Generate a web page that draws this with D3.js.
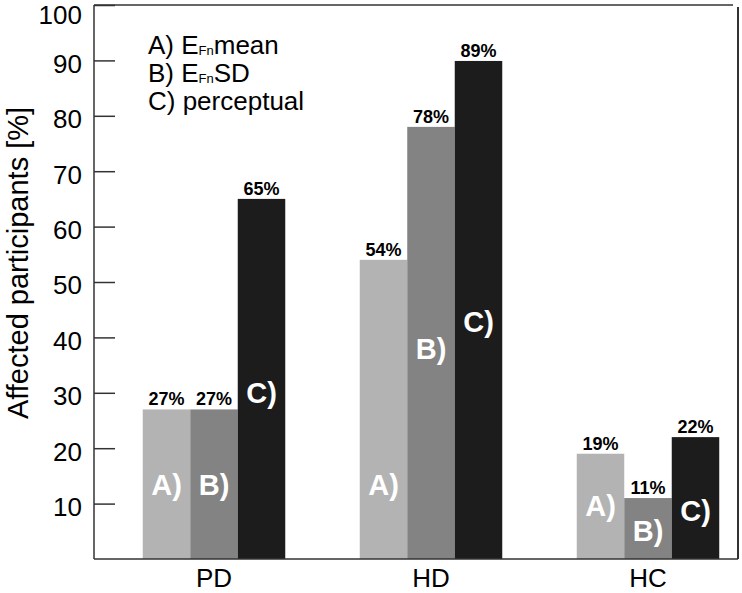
<!DOCTYPE html>
<html>
<head>
<meta charset="utf-8">
<script src="https://cdn.jsdelivr.net/npm/d3@7"></script>
<style>
  html, body { margin: 0; padding: 0; background: #fff; }
  svg { display: block; font-family: "Liberation Sans", Arial, Helvetica, sans-serif; }
</style>
</head>
<body>
<svg id="chart" width="742" height="593"></svg>
<script>
// ---- data ----
const groups = ["PD", "HD", "HC"];
const seriesKeys = ["A)", "B)", "C)"];
const valuesA = [27, 54, 19];
const valuesB = [27, 78, 11];
const valuesC = [65, 89.9, 22];
const pctA = ["27%", "54%", "19%"];
const pctB = ["27%", "78%", "11%"];
const pctC = ["65%", "89%", "22%"];
// where the white series letters sit inside each bar (in % units)
const letterA = [13.5, 13.5, 9.6];
const letterB = [13.5, 38, 5.2];
const letterC = [30, 42.8, 8.8];
const yTicks = [10, 20, 30, 40, 50, 60, 70, 80, 90, 100];
const legendMain = ["A) E", "B) E", "C) perceptual"];
const legendSub = ["Fn", "Fn", ""];
const legendTail = ["mean", "SD", ""];
const yTitle = "Affected participants [%]";
const colors = ["#b3b3b3", "#838383", "#1c1c1c"];

// ---- layout ----
const svg = d3.select("#chart");
const pL = 94, pR = 738, pT = 5, pB = 559;

const y = d3.scaleLinear().domain([0, 100]).range([pB, pT]);
const x = d3.scalePoint().domain(groups).range([pL + 120, pR - 90]);
const groupWidth = 142.5;
const xs = d3.scaleBand().domain(seriesKeys).range([-groupWidth / 2, groupWidth / 2]).padding(0);

const seriesVals = [valuesA, valuesB, valuesC];
const seriesPct = [pctA, pctB, pctC];
const seriesLetter = [letterA, letterB, letterC];

const bars = [];
groups.forEach((g, gi) => {
  seriesKeys.forEach((k, si) => {
    bars.push({ g, k, si, v: seriesVals[si][gi], pct: seriesPct[si][gi], lab: seriesLetter[si][gi] });
  });
});

// bars
svg.append("g").selectAll("rect").data(bars).join("rect")
  .attr("x", d => x(d.g) + xs(d.k))
  .attr("width", xs.bandwidth())
  .attr("y", d => y(d.v))
  .attr("height", d => y(0) - y(d.v))
  .attr("fill", d => colors[d.si]);

// value labels
svg.append("g").selectAll("text").data(bars).join("text")
  .attr("x", d => x(d.g) + xs(d.k) + xs.bandwidth() / 2)
  .attr("y", d => y(d.v) - 4)
  .attr("text-anchor", "middle")
  .attr("font-size", 18)
  .attr("font-weight", "bold")
  .attr("fill", "#000")
  .text(d => d.pct);

// letters inside bars
svg.append("g").selectAll("text").data(bars).join("text")
  .attr("x", d => x(d.g) + xs(d.k) + xs.bandwidth() / 2)
  .attr("y", d => y(d.lab))
  .attr("dy", "0.36em")
  .attr("text-anchor", "middle")
  .attr("font-size", 29)
  .attr("font-weight", "bold")
  .attr("fill", "#fff")
  .text(d => d.k);

// frame
const frame = svg.append("g").attr("fill", "none").attr("stroke", "#333");
frame.append("line").attr("x1", pL).attr("x2", pR - 5).attr("y1", pT).attr("y2", pT).attr("stroke-width", 1.5);
frame.append("line").attr("x1", pR).attr("x2", pR).attr("y1", pT + 2).attr("y2", pB).attr("stroke-width", 2);
frame.append("line").attr("x1", pL).attr("x2", pR).attr("y1", pB).attr("y2", pB).attr("stroke-width", 1.5);

// y axis with inward ticks
const yAxis = d3.axisRight(y).tickValues(yTicks).tickSize(21).tickFormat("");
const ya = svg.append("g").attr("transform", `translate(${pL},0)`).call(yAxis);
ya.select(".domain").attr("stroke", "#333").attr("stroke-width", 1.5).attr("d", `M0,${pT}V${pB}`);
ya.selectAll(".tick line").attr("stroke", "#333").attr("stroke-width", 1.5);

// y tick labels
svg.append("g").selectAll("text").data(yTicks).join("text")
  .attr("x", 82)
  .attr("y", d => Math.max(y(d) + 3, 15))
  .attr("dy", "0.36em")
  .attr("text-anchor", "end")
  .attr("font-size", 26)
  .attr("fill", "#000")
  .text(d => d);

// x category labels
svg.append("g").selectAll("text").data(groups).join("text")
  .attr("x", d => x(d))
  .attr("y", 587)
  .attr("text-anchor", "middle")
  .attr("font-size", 26)
  .attr("fill", "#000")
  .text(d => d);

// y title
svg.append("text")
  .attr("transform", `translate(27.5,263) rotate(-90)`)
  .attr("text-anchor", "middle")
  .attr("font-size", 29)
  .attr("fill", "#000")
  .text(yTitle);

// legend
const leg = svg.append("g");
legendMain.forEach((m, i) => {
  const t = leg.append("text")
    .attr("x", 148)
    .attr("y", 54 + i * 28)
    .attr("font-size", 26)
    .attr("fill", "#000");
  t.append("tspan").text(m);
  if (legendSub[i]) {
    t.append("tspan").attr("font-size", 13).attr("dy", 1).text(legendSub[i]);
    t.append("tspan").attr("dy", -1).text(legendTail[i]);
  }
});
</script>
</body>
</html>
